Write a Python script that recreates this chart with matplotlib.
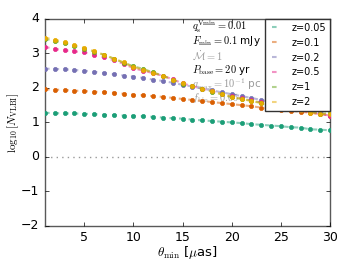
import matplotlib
matplotlib.use("Agg")
import matplotlib.pyplot as plt

plt.style.use("classic")

theta_min = list(range(1, 31))
z_labels = ["z=0.05", "z=0.1", "z=0.2", "z=0.5", "z=1", "z=2"]
colores = ["#1b9e77", "#d95f02", "#7570b3", "#e7298a", "#66a61e", "#e6ab02"]

log_n = [
    [1.28, 1.27, 1.26, 1.26, 1.25, 1.24, 1.22, 1.21, 1.20, 1.19, 1.18, 1.16, 1.14, 1.12, 1.11,
     1.08, 1.06, 1.04, 1.02, 1.00, 0.98, 0.95, 0.93, 0.91, 0.89, 0.86, 0.85, 0.80, 0.79, 0.77],
    [1.96, 1.95, 1.94, 1.92, 1.91, 1.89, 1.88, 1.86, 1.83, 1.80, 1.79, 1.76, 1.74, 1.71, 1.68,
     1.65, 1.62, 1.59, 1.56, 1.53, 1.50, 1.47, 1.43, 1.40, 1.37, 1.34, 1.31, 1.28, 1.25, 1.19],
    [2.56, 2.55, 2.54, 2.52, 2.50, 2.47, 2.43, 2.40, 2.36, 2.33, 2.29, 2.24, 2.20, 2.15, 2.09,
     2.04, 1.98, 1.93, 1.87, 1.82, 1.76, 1.71, 1.65, 1.59, 1.54, 1.48, 1.42, 1.36, 1.29, 1.22],
    [3.19, 3.13, 3.09, 3.06, 3.03, 2.96, 2.89, 2.80, 2.70, 2.57, 2.50, 2.43, 2.35, 2.25, 2.13,
     2.05, 1.98, 1.90, 1.82, 1.76, 1.70, 1.64, 1.58, 1.52, 1.47, 1.41, 1.35, 1.29, 1.24, 1.20],
    [3.42, 3.37, 3.30, 3.22, 3.14, 3.05, 2.96, 2.85, 2.73, 2.63, 2.55, 2.45, 2.35, 2.24, 2.12,
     2.05, 1.97, 1.89, 1.81, 1.73, 1.68, 1.63, 1.57, 1.52, 1.49, 1.43, 1.38, 1.33, 1.24, 1.28],
    [3.46, 3.40, 3.33, 3.24, 3.16, 3.07, 2.96, 2.85, 2.74, 2.60, 2.53, 2.44, 2.35, 2.24, 2.13,
     2.07, 1.98, 1.90, 1.82, 1.74, 1.68, 1.62, 1.56, 1.51, 1.47, 1.42, 1.37, 1.28, 1.25, 1.25],
]

textos = [
    (r"$q_{\rm s}^{\rm Vmin}=0.01$", "k"),
    (r"$F_{\rm min}=0.1$ mJy", "k"),
    (r"$\dot{\mathcal{M}}=1$", "0.6"),
    (r"$P_{\rm base}=20$ yr", "k"),
    (r"$a_{\rm max}=10^{-1}$ pc", "0.6"),
    (r"$f_{\rm bin}=0.05$", "0.6"),
]

fig = plt.figure(figsize=(3.46, 2.67), dpi=100, facecolor="white")
ax = fig.add_axes([0.130, 0.154, 0.824, 0.775])
ax.set_facecolor("white")

for i, txt in enumerate(textos):
    ax.text(16.0, 3.76 - 0.41 * i, txt[0], color=txt[1], fontsize=7.5, va="center", zorder=1)

ax.axhline(0, color="0.6", linestyle=":", linewidth=1)

for y, col, lab in zip(log_n, colores, z_labels):
    ax.plot(theta_min, y, linestyle="--", dashes=(3.3, 3.6), color=col, linewidth=1.5,
            alpha=0.5, label=lab, zorder=2)
    ax.plot(theta_min, y, linestyle="none", marker="o", markersize=3,
            markerfacecolor=col, markeredgecolor=col, zorder=3)

ax.set_xlim(1, 30)
ax.set_ylim(-2, 4)
ax.set_xticks([5, 10, 15, 20, 25, 30])
ax.set_yticks([-2, -1, 0, 1, 2, 3, 4])
ax.tick_params(labelsize=9, length=3)
for s in ax.spines.values():
    s.set_color("0.35")

ax.set_xlabel(r"$\theta_{\rm min}$ [$\mu$as]", fontsize=9.5, labelpad=0)
ax.set_ylabel(r"$\log_{10}[N_{\rm VLBI}]$", fontsize=8, labelpad=0)

leg = ax.legend(loc="upper right", fontsize=7, numpoints=2, handlelength=1.5,
                borderaxespad=0, frameon=True)
leg.get_frame().set_edgecolor("0.2")

fig.savefig("out.png", dpi=100, facecolor="white")
